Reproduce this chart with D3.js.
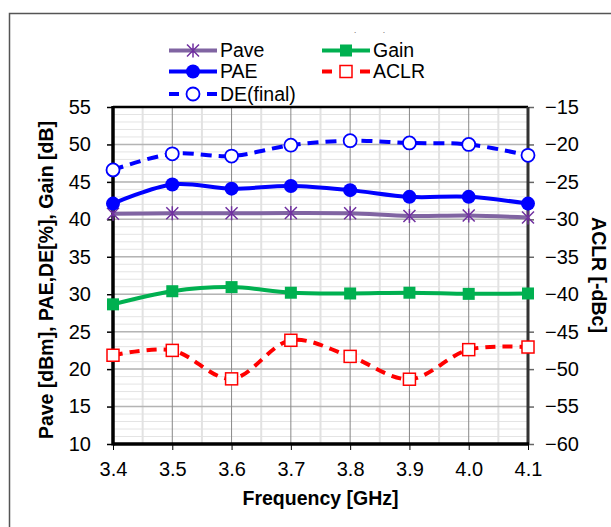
<!DOCTYPE html>
<html>
<head>
<meta charset="utf-8">
<script src="https://cdn.jsdelivr.net/npm/d3@7"></script>
<style>
  body { margin: 0; background: #fff; }
  text { font-family: "Liberation Sans", Arial, sans-serif; fill: #000; }
  .axis path { display: none; }
  .tick text { font-size: 20px; }
</style>
</head>
<body>
<script>
// data
var freq = [3.4, 3.5, 3.6, 3.7, 3.8, 3.9, 4.0, 4.1];
var pave = [40.75, 40.8, 40.8, 40.85, 40.8, 40.45, 40.5, 40.25];
var pae = [42.1, 44.65, 44.1, 44.45, 43.9, 43.0, 43.0, 42.1];
var de = [46.6, 48.75, 48.45, 49.9, 50.5, 50.2, 50.0, 48.55];
var gain = [28.65, 30.4, 30.95, 30.2, 30.1, 30.2, 30.05, 30.1];
var aclr = [-48.15, -47.5, -51.3, -46.15, -48.3, -51.35, -47.4, -47.05];

var xTicks = [3.4, 3.5, 3.6, 3.7, 3.8, 3.9, 4.0, 4.1];
var leftTicks = [10, 15, 20, 25, 30, 35, 40, 45, 50, 55];
var rightTicks = [-60, -55, -50, -45, -40, -35, -30, -25, -20, -15];

var W = 611, H = 527;
var pLeft = 113, pRight = 528, pTop = 107, pBottom = 444;

var svg = d3.select("body").append("svg")
    .attr("width", W)
    .attr("height", H);

// outer chart frame
svg.append("rect")
    .attr("x", 9.5).attr("y", 13.5)
    .attr("width", 640).attr("height", 560)
    .attr("fill", "none")
    .attr("stroke", "#555")
    .attr("stroke-width", 1.5);

var x = d3.scaleLinear().domain([3.4, 4.1]).range([pLeft, pRight]);
var yL = d3.scaleLinear().domain([10, 55]).range([pBottom, pTop]);
var yR = d3.scaleLinear().domain([-60, -15]).range([pBottom, pTop]);

// minor grid
var g = svg.append("g");
g.selectAll(".hminor")
    .data(d3.range(11, 55))
    .enter().append("line")
    .attr("x1", pLeft).attr("x2", pRight)
    .attr("y1", d => yL(d)).attr("y2", d => yL(d))
    .attr("stroke", "#e4e4e4").attr("stroke-width", 1);
g.selectAll(".vminor")
    .data(xTicks.slice(0, -1).map(d => d + 0.05))
    .enter().append("line")
    .attr("x1", d => x(d)).attr("x2", d => x(d))
    .attr("y1", pTop).attr("y2", pBottom)
    .attr("stroke", "#e2e2e2").attr("stroke-width", 2);

// major grid
g.selectAll(".hmajor")
    .data(leftTicks.slice(1, -1))
    .enter().append("line")
    .attr("x1", pLeft).attr("x2", pRight)
    .attr("y1", d => yL(d)).attr("y2", d => yL(d))
    .attr("stroke", "#b4b4b4").attr("stroke-width", 1.5);
g.selectAll(".vmajor")
    .data(xTicks.slice(1, -1))
    .enter().append("line")
    .attr("x1", d => x(d)).attr("x2", d => x(d))
    .attr("y1", pTop).attr("y2", pBottom)
    .attr("stroke", "#888").attr("stroke-width", 1);

// axes
svg.append("g")
    .attr("class", "axis")
    .attr("transform", "translate(" + pLeft + ",0)")
    .call(d3.axisLeft(yL).tickValues(leftTicks).tickSize(6).tickPadding(16))
    .selectAll("line").attr("stroke", "#000").attr("stroke-width", 1.5);

svg.append("g")
    .attr("class", "axis")
    .attr("transform", "translate(" + pRight + ",0)")
    .call(d3.axisRight(yR).tickValues(rightTicks).tickSize(6).tickPadding(11))
    .selectAll("line").attr("stroke", "#666").attr("stroke-width", 1.5);

svg.append("g")
    .attr("class", "axis")
    .attr("transform", "translate(0," + pBottom + ")")
    .call(d3.axisBottom(x).tickValues(xTicks).tickSize(6).tickPadding(12).tickFormat(d3.format(".1f")))
    .selectAll("line").attr("stroke", "#000").attr("stroke-width", 1);

// plot border
svg.append("line").attr("x1", pLeft).attr("x2", pRight).attr("y1", pTop).attr("y2", pTop)
    .attr("stroke", "#000").attr("stroke-width", 2.5);
svg.append("line").attr("x1", pRight).attr("x2", pRight).attr("y1", pTop).attr("y2", pBottom)
    .attr("stroke", "#333").attr("stroke-width", 3);
svg.append("line").attr("x1", pLeft).attr("x2", pLeft).attr("y1", pTop - 1).attr("y2", pBottom + 1.5)
    .attr("stroke", "#000").attr("stroke-width", 3.5);
svg.append("line").attr("x1", pLeft).attr("x2", pRight + 1).attr("y1", pBottom).attr("y2", pBottom)
    .attr("stroke", "#000").attr("stroke-width", 3.5);

// series
var series = [
    {name: "Pave", values: pave, y: yL, color: "#8064A2", mcolor: "#7030A0", dash: null, marker: "star"},
    {name: "Gain", values: gain, y: yL, color: "#00B050", mcolor: "#00B050", dash: null, marker: "square"},
    {name: "ACLR", values: aclr, y: yR, color: "#FF0000", mcolor: "#FF0000", dash: "10,7", marker: "osquare"},
    {name: "PAE", values: pae, y: yL, color: "#0000FF", mcolor: "#0000FF", dash: null, marker: "circle"},
    {name: "DE(final)", values: de, y: yL, color: "#0000FF", mcolor: "#0000FF", dash: "11,7", marker: "ocircle"}
];

function drawMarker(sel, type, color) {
    if (type === "star") {
        var s = 6;
        sel.append("path")
            .attr("d", "M" + (-s) + "," + (-s) + "L" + s + "," + s +
                "M" + (-s) + "," + s + "L" + s + "," + (-s) +
                "M0," + (-s - 1) + "L0," + (s + 1))
            .attr("stroke", color).attr("stroke-width", 1.5).attr("fill", "none");
    } else if (type === "square") {
        sel.append("rect").attr("x", -6).attr("y", -6).attr("width", 12).attr("height", 12)
            .attr("fill", color);
    } else if (type === "osquare") {
        sel.append("rect").attr("x", -6).attr("y", -6).attr("width", 12).attr("height", 12)
            .attr("fill", "#fff").attr("stroke", color).attr("stroke-width", 1.5);
    } else if (type === "circle") {
        sel.append("circle").attr("r", 7).attr("fill", color);
    } else if (type === "ocircle") {
        sel.append("circle").attr("r", 6.5).attr("fill", "#fff")
            .attr("stroke", color).attr("stroke-width", 1.8);
    }
}

series.forEach(function (s) {
    var line = d3.line()
        .x((d, i) => x(freq[i]))
        .y(d => s.y(d))
        .curve(d3.curveCatmullRom.alpha(0.5));
    svg.append("path")
        .datum(s.values)
        .attr("d", line)
        .attr("fill", "none")
        .attr("stroke", s.color)
        .attr("stroke-width", 4)
        .attr("stroke-dasharray", s.dash);
    s.values.forEach(function (v, i) {
        var m = svg.append("g").attr("transform", "translate(" + x(freq[i]) + "," + s.y(v) + ")");
        drawMarker(m, s.marker, s.mcolor);
    });
});

// legend
var legend = [
    {name: "Pave", s: series[0], lx: 169, ly: 50.5},
    {name: "PAE", s: series[3], lx: 169, ly: 71.5},
    {name: "DE(final)", s: series[4], lx: 169, ly: 94},
    {name: "Gain", s: series[1], lx: 322, ly: 50.5},
    {name: "ACLR", s: series[2], lx: 322, ly: 71.5}
];
legend.forEach(function (l) {
    var gl = svg.append("g").attr("transform", "translate(" + l.lx + "," + l.ly + ")");
    if (l.s.dash) {
        gl.append("line").attr("x1", 0).attr("x2", 10).attr("stroke", l.s.color).attr("stroke-width", 4);
        gl.append("line").attr("x1", 38).attr("x2", 48).attr("stroke", l.s.color).attr("stroke-width", 4);
    } else {
        gl.append("line").attr("x1", 0).attr("x2", 48).attr("stroke", l.s.color).attr("stroke-width", 4);
    }
    var mk = gl.append("g").attr("transform", "translate(24,0)");
    drawMarker(mk, l.s.marker, l.s.mcolor);
    gl.append("text").attr("x", 51).attr("y", 6.5)
        .style("font-size", "19.5px")
        .text(l.name);
});

// stray specks
svg.append("text").attr("x", 354).attr("y", 37).style("font-size", "7px").text("`");
svg.append("text").attr("x", 383).attr("y", 37).style("font-size", "7px").text("´");

// axis titles
svg.append("text")
    .attr("x", (pLeft + pRight) / 2).attr("y", 505)
    .attr("text-anchor", "middle")
    .style("font-size", "19.5px").style("font-weight", "bold")
    .text("Frequency [GHz]");

svg.append("text")
    .attr("transform", "translate(53,280) rotate(-90)")
    .attr("text-anchor", "middle")
    .style("font-size", "19.5px").style("font-weight", "bold")
    .text("Pave [dBm], PAE,DE[%], Gain [dB]");

svg.append("text")
    .attr("transform", "translate(592,275) rotate(90)")
    .attr("text-anchor", "middle")
    .style("font-size", "19.5px").style("font-weight", "bold")
    .text("ACLR [-dBc]");
</script>
</body>
</html>
